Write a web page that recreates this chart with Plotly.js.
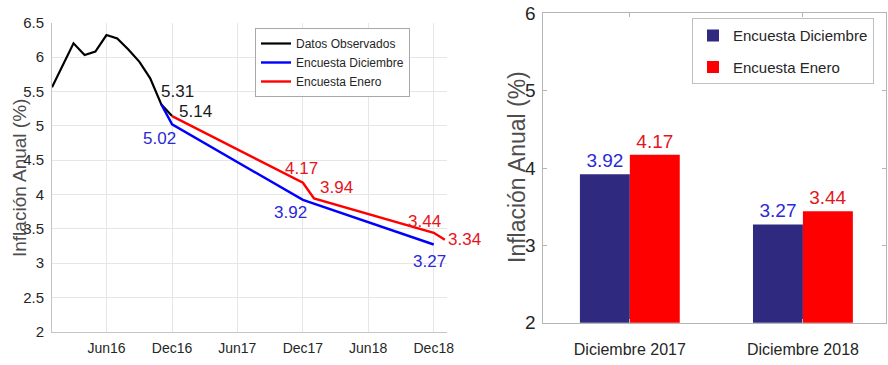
<!DOCTYPE html>
<html>
<head>
<meta charset="utf-8">
<script src="https://cdn.plot.ly/plotly-3.0.1.min.js"></script>
<style>
  html, body { margin: 0; padding: 0; background: #fff; overflow: hidden; }
  #chart { width: 888px; height: 365px; }
</style>
</head>
<body>
<div id="chart"></div>
<script>
// ---------- Data ----------
const obsDates = ['2016-01-01','2016-02-01','2016-03-01','2016-04-01','2016-05-01','2016-06-01',
                  '2016-07-01','2016-08-01','2016-09-01','2016-10-01','2016-11-01','2016-12-01'];
const obsValues = [5.56, 5.88, 6.20, 6.03, 6.08, 6.32, 6.27, 6.11, 5.93, 5.69, 5.31, 5.14];

const decDates = ['2016-11-01','2016-12-01','2017-12-01','2018-12-01'];
const decValues = [5.31, 5.02, 3.92, 3.27];

const janDates = ['2016-12-01','2017-12-01','2018-01-01','2018-12-01','2019-01-01'];
const janValues = [5.14, 4.17, 3.94, 3.44, 3.34];

const xTickDates = ['2016-06-01','2016-12-01','2017-06-01','2017-12-01','2018-06-01','2018-12-01'];
const xTickText = ['Jun16','Dec16','Jun17','Dec17','Jun18','Dec18'];

const barCategories = ['Diciembre 2017','Diciembre 2018'];
const barDec = [3.92, 3.27];
const barJan = [4.17, 3.44];

const seriesNames = ['Datos Observados','Encuesta Diciembre','Encuesta Enero'];
const yTitle = 'Inflación Anual (%)';

// ---------- Styles ----------
const SANS = '"Liberation Sans", Arial, Helvetica, sans-serif';
const labelColors = {obs: '#1a1a1a', dec: '#2a2ad6', jan: '#e6141c'};

// which points get value labels, and their pixel offsets (style only)
const labelSpecs = [
  {series: 'obs', idx: 10, dx: 16, dy: 13},
  {series: 'obs', idx: 11, dx: 23, dy: 5},
  {series: 'dec', idx: 1, dx: -13, dy: -14},
  {series: 'dec', idx: 2, dx: -12, dy: -13},
  {series: 'dec', idx: 3, dx: -4, dy: -17},
  {series: 'jan', idx: 1, dx: -1, dy: 14},
  {series: 'jan', idx: 2, dx: 22, dy: 11},
  {series: 'jan', idx: 3, dx: -9, dy: 11},
  {series: 'jan', idx: 4, dx: 20, dy: 0}
];
const seriesData = {
  obs: {x: obsDates, y: obsValues},
  dec: {x: decDates, y: decValues},
  jan: {x: janDates, y: janValues}
};

const traces = [
  {type: 'scatter', mode: 'lines', x: obsDates, y: obsValues, name: seriesNames[0],
   line: {color: '#000000', width: 2.2}, xaxis: 'x', yaxis: 'y', legend: 'legend'},
  {type: 'scatter', mode: 'lines', x: decDates, y: decValues, name: seriesNames[1],
   line: {color: '#0000ff', width: 2.4}, xaxis: 'x', yaxis: 'y', legend: 'legend'},
  {type: 'scatter', mode: 'lines', x: janDates, y: janValues, name: seriesNames[2],
   line: {color: '#ff0000', width: 2.4}, xaxis: 'x', yaxis: 'y', legend: 'legend'},
  {type: 'bar', x: barCategories, y: barDec, name: 'Encuesta Diciembre',
   marker: {color: '#2f2a80'}, xaxis: 'x2', yaxis: 'y2', legend: 'legend2', legendgroup: 'g1',
   text: barDec.map(v => v.toFixed(2)), textposition: 'outside', cliponaxis: false,
   textfont: {family: SANS, size: 19, color: labelColors.dec}},
  {type: 'bar', x: barCategories, y: barJan, name: 'Encuesta Enero',
   marker: {color: '#ff0000'}, xaxis: 'x2', yaxis: 'y2', legend: 'legend2', legendgroup: 'g2',
   text: barJan.map(v => v.toFixed(2)), textposition: 'outside', cliponaxis: false,
   textfont: {family: SANS, size: 19, color: labelColors.jan}}
];

const annotations = labelSpecs.map(s => ({
  xref: 'x', yref: 'y',
  x: seriesData[s.series].x[s.idx], y: seriesData[s.series].y[s.idx],
  text: seriesData[s.series].y[s.idx].toFixed(2),
  showarrow: false, xanchor: 'center', yanchor: 'middle',
  xshift: s.dx, yshift: s.dy,
  font: {family: SANS, size: 17, color: labelColors[s.series]}
}));
annotations.push(
  {xref: 'paper', yref: 'paper', x: 19/888, y: 1 - 178/365, text: yTitle, textangle: -90,
   showarrow: false, xanchor: 'center', yanchor: 'middle',
   font: {family: SANS, size: 19, color: '#4d4d4d'}},
  {xref: 'paper', yref: 'paper', x: 517/888, y: 1 - 167/365, text: yTitle, textangle: -90,
   showarrow: false, xanchor: 'center', yanchor: 'middle',
   font: {family: SANS, size: 23, color: '#4d4d4d'}}
);

const layout = {
  width: 888, height: 365,
  margin: {l: 0, r: 0, t: 0, b: 0, autoexpand: false},
  paper_bgcolor: '#ffffff', plot_bgcolor: '#ffffff',
  showlegend: true,
  font: {family: SANS, color: '#262626'},
  xaxis: {
    domain: [52/888, 447/888], anchor: 'y', type: 'date',
    range: ['2016-01-01', '2019-01-07'],
    tickmode: 'array', tickvals: xTickDates, ticktext: xTickText,
    showgrid: true, gridcolor: '#e6e6e6', gridwidth: 1,
    showline: true, linecolor: '#c4c4c4', linewidth: 1, mirror: false,
    ticks: '', zeroline: false,
    tickfont: {family: SANS, size: 14, color: '#262626'},
    ticklabelstandoff: 3
  },
  yaxis: {
    domain: [1 - 331.7/365, 1 - 22.7/365], anchor: 'x',
    range: [2, 6.5], tickmode: 'linear', tick0: 2, dtick: 0.5,
    showgrid: true, gridcolor: '#e6e6e6', gridwidth: 1,
    showline: true, linecolor: '#c4c4c4', linewidth: 1,
    ticks: '', zeroline: false,
    tickfont: {family: SANS, size: 15, color: '#262626'},
    ticklabelstandoff: 4
  },
  xaxis2: {
    domain: [543.3/888, 886/888], anchor: 'y2', type: 'category',
    range: [-0.5, 1.48],
    showgrid: false, showline: true, linecolor: '#b5b5b5', linewidth: 1, mirror: 'ticks',
    ticks: 'inside', ticklen: 4, tickcolor: '#b5b5b5',
    tickfont: {family: SANS, size: 16, color: '#262626'},
    ticklabelstandoff: 12
  },
  yaxis2: {
    domain: [1 - 322.7/365, 1 - 13.3/365], anchor: 'x2',
    range: [2, 6], tickmode: 'linear', tick0: 2, dtick: 1,
    showgrid: false, showline: true, linecolor: '#b5b5b5', linewidth: 1, mirror: 'ticks',
    ticks: 'inside', ticklen: 4, tickcolor: '#b5b5b5', zeroline: false,
    tickfont: {family: SANS, size: 19, color: '#262626'},
    ticklabelstandoff: 3
  },
  barmode: 'group', bargap: 0.423, bargroupgap: 0,
  legend: {
    x: 410/888, y: 1 - 28/365, xanchor: 'right', yanchor: 'top',
    bgcolor: '#ffffff', bordercolor: '#a8a8a8', borderwidth: 1,
    font: {family: SANS, size: 12, color: '#262626'},
    itemwidth: 30, tracegroupgap: 0
  },
  legend2: {
    x: 874/888, y: 1 - 18.3/365, xanchor: 'right', yanchor: 'top',
    bgcolor: '#ffffff', bordercolor: '#c0c0c0', borderwidth: 1,
    font: {family: SANS, size: 15, color: '#262626'},
    itemwidth: 30, tracegroupgap: 9
  },
  annotations: annotations
};

Plotly.newPlot('chart', traces, layout, {staticPlot: true, displayModeBar: false});
</script>
</body>
</html>
